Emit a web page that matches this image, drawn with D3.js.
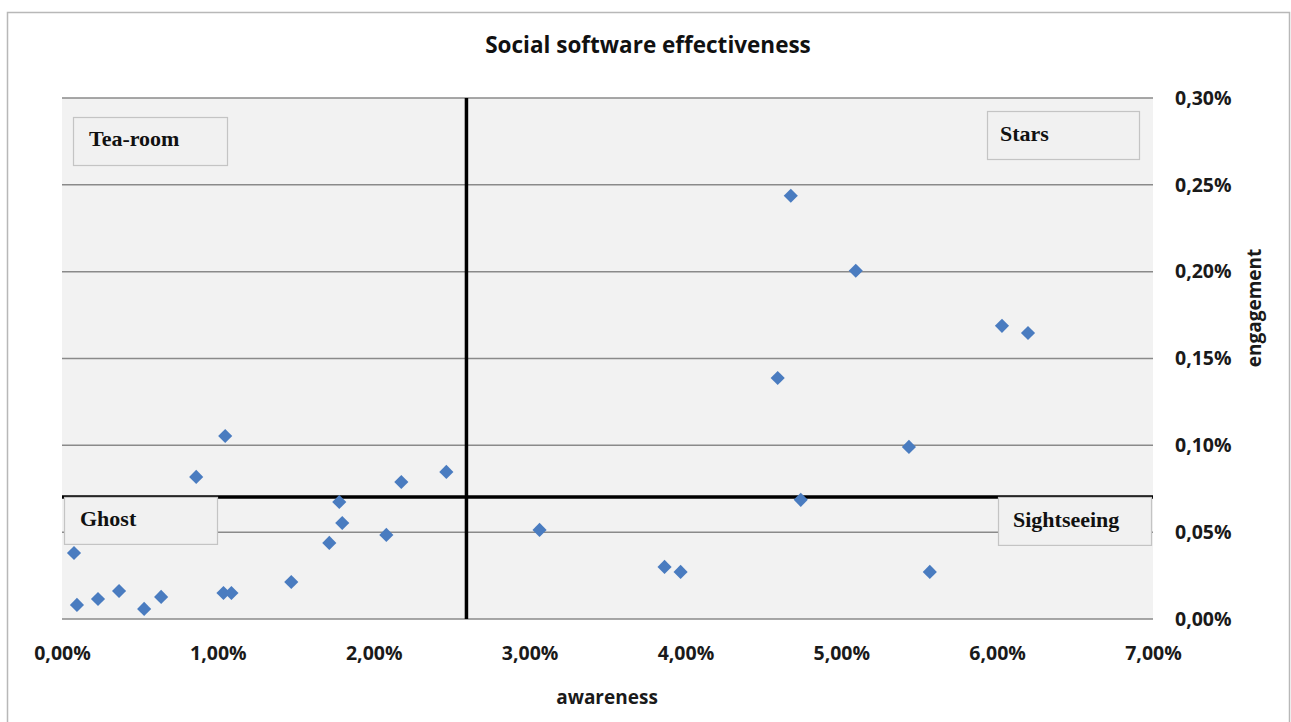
<!DOCTYPE html>
<html>
<head>
<meta charset="utf-8">
<script src="https://cdn.jsdelivr.net/npm/d3@7"></script>
<style>
  html, body { margin: 0; padding: 0; background: #ffffff; }
  svg { display: block; }
</style>
</head>
<body>
<svg id="chart" width="1291" height="722"></svg>
<script>
// ---- data (awareness %, engagement %) ----
const awareness = [
  4.676, 5.093, 6.031, 6.198, 4.592, 5.434,
  4.740, 3.064, 3.866, 3.969, 5.568,
  1.047, 0.861, 2.177, 2.466,
  1.779, 1.798, 1.715, 2.081, 1.471, 1.036, 1.087, 0.636, 0.077, 0.096, 0.231, 0.366, 0.527
];
const engagement = [
  0.2437, 0.2005, 0.1688, 0.1647, 0.1388, 0.0991,
  0.0686, 0.0513, 0.0300, 0.0271, 0.0271,
  0.1054, 0.0818, 0.0789, 0.0847,
  0.0674, 0.0553, 0.0438, 0.0484, 0.0213, 0.0150, 0.0150, 0.0127, 0.0380, 0.0081, 0.0115, 0.0161, 0.0058
];
const xTicks = [0, 1, 2, 3, 4, 5, 6, 7];
const yTicks = [0, 0.05, 0.10, 0.15, 0.20, 0.25, 0.30];
const avgAwareness = 2.595;
const avgEngagement = 0.0703;
const quadrantLabels = ["Tea-room", "Stars", "Ghost", "Sightseeing"];
const chartTitle = "Social software effectiveness";
const xTitle = "awareness";
const yTitle = "engagement";

// ---- layout ----
const svg = d3.select("#chart");
const plot = { left: 62, right: 1153, top: 98, bottom: 619 };
const x = d3.scaleLinear().domain([0, 7]).range([plot.left, plot.right]);
const y = d3.scaleLinear().domain([0, 0.30]).range([plot.bottom, plot.top]);
const fmt = v => d3.format(".2f")(v).replace(".", ",") + "%";
const sansBold = "'Open Sans', 'DejaVu Sans', sans-serif";

// outer chart border
svg.append("rect").attr("x", 7.5).attr("y", 12.5).attr("width", 1282).attr("height", 720)
  .attr("fill", "#ffffff").attr("stroke", "#b8b8b8").attr("stroke-width", 1.5);

// plot background
svg.append("rect").attr("x", plot.left).attr("y", plot.top)
  .attr("width", plot.right - plot.left).attr("height", plot.bottom - plot.top)
  .attr("fill", "#f2f2f2");

// gridlines
svg.append("g").selectAll("line").data(yTicks).join("line")
  .attr("x1", plot.left).attr("x2", plot.right)
  .attr("y1", d => y(d)).attr("y2", d => y(d))
  .attr("stroke", "#8a8a8a").attr("stroke-width", 1.5);

// y axis (right) labels
const yAxis = d3.axisRight(y).tickValues(yTicks).tickFormat(fmt).tickSize(0).tickPadding(22);
const gy = svg.append("g").attr("transform", `translate(${plot.right},0)`).call(yAxis);
gy.select(".domain").remove();
gy.selectAll("text").attr("font-family", sansBold).attr("font-weight", "bold")
  .attr("font-size", 19.5).attr("fill", "#1a1a1a");

// x axis labels
const xAxis = d3.axisBottom(x).tickValues(xTicks).tickFormat(fmt).tickSize(0).tickPadding(27);
const gx = svg.append("g").attr("transform", `translate(0,${plot.bottom})`).call(xAxis);
gx.select(".domain").remove();
gx.selectAll("text").attr("font-family", sansBold).attr("font-weight", "bold")
  .attr("font-size", 19.5).attr("fill", "#1a1a1a");

// quadrant lines (averages)
svg.append("line").attr("x1", plot.left).attr("x2", plot.right)
  .attr("y1", y(avgEngagement)).attr("y2", y(avgEngagement))
  .attr("stroke", "#000").attr("stroke-width", 3.5);
svg.append("line").attr("x1", x(avgAwareness)).attr("x2", x(avgAwareness))
  .attr("y1", plot.top).attr("y2", plot.bottom)
  .attr("stroke", "#000").attr("stroke-width", 3.5);

// data points
const pts = awareness.map((a, i) => ({ a, e: engagement[i] }));
svg.append("g").selectAll("path").data(pts).join("path")
  .attr("d", d3.symbol(d3.symbolSquare, 100))
  .attr("transform", d => `translate(${x(d.a)},${y(d.e)}) rotate(45)`)
  .attr("fill", "#4a7cc0");

// quadrant label boxes
const boxes = [
  { label: quadrantLabels[0], bx: plot.left + 11, by: plot.top + 19, w: 154, h: 48, tx: 16, ty: 29 },
  { label: quadrantLabels[1], bx: plot.right - 166, by: plot.top + 13, w: 152, h: 48, tx: 13, ty: 30 },
  { label: quadrantLabels[2], bx: plot.left + 2, by: y(avgEngagement), w: 153, h: 47, tx: 16, ty: 29 },
  { label: quadrantLabels[3], bx: plot.right - 155, by: y(avgEngagement), w: 153, h: 48, tx: 15, ty: 30 }
];
const bg = svg.append("g").selectAll("g").data(boxes).join("g")
  .attr("transform", d => `translate(${d.bx},${d.by})`);
bg.append("rect").attr("x", 0.5).attr("y", 0.5).attr("width", d => d.w).attr("height", d => d.h)
  .attr("fill", "#f1f1f1").attr("stroke", "#c4c4c4").attr("stroke-width", 1.2);
bg.append("text").attr("x", d => d.tx).attr("y", d => d.ty)
  .attr("font-family", "'Liberation Serif', 'Times New Roman', serif")
  .attr("font-weight", "bold").attr("font-size", 22).attr("fill", "#111")
  .text(d => d.label);

// titles
svg.append("text").attr("x", 648).attr("y", 53).attr("text-anchor", "middle")
  .attr("font-family", sansBold).attr("font-weight", "bold").attr("font-size", 22.5)
  .attr("fill", "#111").text(chartTitle);
svg.append("text").attr("x", 607).attr("y", 704).attr("text-anchor", "middle")
  .attr("font-family", sansBold).attr("font-weight", "bold").attr("font-size", 19)
  .attr("fill", "#1a1a1a").text(xTitle);
svg.append("text").attr("transform", "translate(1261,308) rotate(-90)").attr("text-anchor", "middle")
  .attr("font-family", sansBold).attr("font-weight", "bold").attr("font-size", 19)
  .attr("fill", "#1a1a1a").text(yTitle);
</script>
</body>
</html>
